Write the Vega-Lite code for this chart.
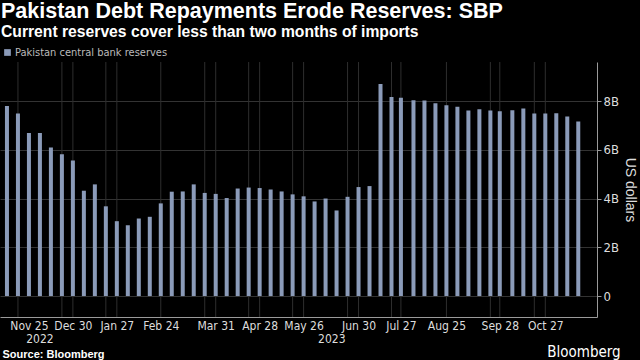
{
  "$schema": "https://vega.github.io/schema/vega-lite/v6.json",
  "width": 597,
  "height": 255,
  "autosize": {"type": "none"},
  "padding": {"left": 0, "top": 62, "right": 43, "bottom": 43},
  "background": "#000000",
  "title": {
    "text": "Pakistan Debt Repayments Erode Reserves: SBP",
    "subtitle": "Current reserves cover less than two months of imports",
    "anchor": "start",
    "frame": "group",
    "offset": 7,
    "dx": 1,
    "font": "Liberation Sans",
    "fontSize": 21.5,
    "fontWeight": "bold",
    "color": "#ffffff",
    "subtitleFont": "Liberation Sans",
    "subtitleFontSize": 15.7,
    "subtitleFontWeight": "bold",
    "subtitleColor": "#ffffff",
    "subtitlePadding": 3
  },
  "datasets": {
    "reserves": [
      {"date": "2022-11-18", "value": 7.80, "series": "Pakistan central bank reserves"},
      {"date": "2022-11-25", "value": 7.49, "series": "Pakistan central bank reserves"},
      {"date": "2022-12-02", "value": 6.69, "series": "Pakistan central bank reserves"},
      {"date": "2022-12-09", "value": 6.69, "series": "Pakistan central bank reserves"},
      {"date": "2022-12-16", "value": 6.09, "series": "Pakistan central bank reserves"},
      {"date": "2022-12-23", "value": 5.82, "series": "Pakistan central bank reserves"},
      {"date": "2022-12-30", "value": 5.56, "series": "Pakistan central bank reserves"},
      {"date": "2023-01-06", "value": 4.32, "series": "Pakistan central bank reserves"},
      {"date": "2023-01-13", "value": 4.58, "series": "Pakistan central bank reserves"},
      {"date": "2023-01-20", "value": 3.68, "series": "Pakistan central bank reserves"},
      {"date": "2023-01-27", "value": 3.07, "series": "Pakistan central bank reserves"},
      {"date": "2023-02-03", "value": 2.90, "series": "Pakistan central bank reserves"},
      {"date": "2023-02-10", "value": 3.18, "series": "Pakistan central bank reserves"},
      {"date": "2023-02-17", "value": 3.25, "series": "Pakistan central bank reserves"},
      {"date": "2023-02-24", "value": 3.80, "series": "Pakistan central bank reserves"},
      {"date": "2023-03-03", "value": 4.28, "series": "Pakistan central bank reserves"},
      {"date": "2023-03-10", "value": 4.29, "series": "Pakistan central bank reserves"},
      {"date": "2023-03-17", "value": 4.58, "series": "Pakistan central bank reserves"},
      {"date": "2023-03-24", "value": 4.23, "series": "Pakistan central bank reserves"},
      {"date": "2023-03-31", "value": 4.19, "series": "Pakistan central bank reserves"},
      {"date": "2023-04-07", "value": 4.02, "series": "Pakistan central bank reserves"},
      {"date": "2023-04-14", "value": 4.41, "series": "Pakistan central bank reserves"},
      {"date": "2023-04-21", "value": 4.45, "series": "Pakistan central bank reserves"},
      {"date": "2023-04-28", "value": 4.43, "series": "Pakistan central bank reserves"},
      {"date": "2023-05-05", "value": 4.37, "series": "Pakistan central bank reserves"},
      {"date": "2023-05-12", "value": 4.29, "series": "Pakistan central bank reserves"},
      {"date": "2023-05-19", "value": 4.17, "series": "Pakistan central bank reserves"},
      {"date": "2023-05-26", "value": 4.09, "series": "Pakistan central bank reserves"},
      {"date": "2023-06-02", "value": 3.88, "series": "Pakistan central bank reserves"},
      {"date": "2023-06-09", "value": 4.00, "series": "Pakistan central bank reserves"},
      {"date": "2023-06-16", "value": 3.51, "series": "Pakistan central bank reserves"},
      {"date": "2023-06-23", "value": 4.07, "series": "Pakistan central bank reserves"},
      {"date": "2023-06-30", "value": 4.47, "series": "Pakistan central bank reserves"},
      {"date": "2023-07-07", "value": 4.51, "series": "Pakistan central bank reserves"},
      {"date": "2023-07-14", "value": 8.70, "series": "Pakistan central bank reserves"},
      {"date": "2023-07-21", "value": 8.16, "series": "Pakistan central bank reserves"},
      {"date": "2023-07-27", "value": 8.13, "series": "Pakistan central bank reserves"},
      {"date": "2023-08-04", "value": 8.03, "series": "Pakistan central bank reserves"},
      {"date": "2023-08-11", "value": 8.02, "series": "Pakistan central bank reserves"},
      {"date": "2023-08-18", "value": 7.91, "series": "Pakistan central bank reserves"},
      {"date": "2023-08-25", "value": 7.83, "series": "Pakistan central bank reserves"},
      {"date": "2023-09-01", "value": 7.76, "series": "Pakistan central bank reserves"},
      {"date": "2023-09-08", "value": 7.61, "series": "Pakistan central bank reserves"},
      {"date": "2023-09-15", "value": 7.66, "series": "Pakistan central bank reserves"},
      {"date": "2023-09-22", "value": 7.61, "series": "Pakistan central bank reserves"},
      {"date": "2023-09-28", "value": 7.58, "series": "Pakistan central bank reserves"},
      {"date": "2023-10-06", "value": 7.62, "series": "Pakistan central bank reserves"},
      {"date": "2023-10-13", "value": 7.69, "series": "Pakistan central bank reserves"},
      {"date": "2023-10-20", "value": 7.49, "series": "Pakistan central bank reserves"},
      {"date": "2023-10-27", "value": 7.49, "series": "Pakistan central bank reserves"},
      {"date": "2023-11-03", "value": 7.50, "series": "Pakistan central bank reserves"},
      {"date": "2023-11-10", "value": 7.36, "series": "Pakistan central bank reserves"},
      {"date": "2023-11-17", "value": 7.16, "series": "Pakistan central bank reserves"}
    ],
    "grid": [
      {"date": "2022-11-25"}, {"date": "2022-12-23"}, {"date": "2022-12-30"},
      {"date": "2023-01-20"}, {"date": "2023-01-27"}, {"date": "2023-02-24"},
      {"date": "2023-03-24"}, {"date": "2023-03-31"}, {"date": "2023-04-21"},
      {"date": "2023-04-28"}, {"date": "2023-05-19"}, {"date": "2023-05-26"},
      {"date": "2023-06-23"}, {"date": "2023-06-30"}, {"date": "2023-07-21"},
      {"date": "2023-07-27"}, {"date": "2023-08-25"}, {"date": "2023-09-22"},
      {"date": "2023-09-28"}, {"date": "2023-10-20"}, {"date": "2023-10-27"}
    ],
    "annotations": [{"id": 1}]
  },
  "layer": [
    {
      "data": {"name": "grid"},
      "mark": {"type": "rule", "color": "#2e2e2e", "strokeWidth": 1},
      "encoding": {
        "x": {"field": "date", "type": "temporal", "title": "Source: Bloomberg"}
      }
    },
    {
      "data": {"name": "reserves"},
      "mark": {"type": "bar", "width": 4},
      "encoding": {
        "x": {
          "field": "date",
          "type": "temporal",
          "title": "Source: Bloomberg",
          "scale": {
            "type": "utc",
            "domain": [
              {"year": 2022, "month": 11, "date": 16, "hours": 18, "utc": true},
              {"year": 2023, "month": 11, "date": 25, "hours": 18, "utc": true}
            ]
          },
          "axis": {
            "values": [
              {"year": 2022, "month": 11, "date": 25, "utc": true},
              {"year": 2022, "month": 12, "date": 30, "utc": true},
              {"year": 2023, "month": 1, "date": 27, "utc": true},
              {"year": 2023, "month": 2, "date": 24, "utc": true},
              {"year": 2023, "month": 3, "date": 31, "utc": true},
              {"year": 2023, "month": 4, "date": 28, "utc": true},
              {"year": 2023, "month": 5, "date": 26, "utc": true},
              {"year": 2023, "month": 6, "date": 30, "utc": true},
              {"year": 2023, "month": 7, "date": 27, "utc": true},
              {"year": 2023, "month": 8, "date": 25, "utc": true},
              {"year": 2023, "month": 9, "date": 28, "utc": true},
              {"year": 2023, "month": 10, "date": 27, "utc": true}
            ],
            "labelExpr": "utcFormat(datum.value, '%b %d')",
            "labelFlush": false,
            "labelOffset": {"condition": {"test": "datum.index == 0", "value": 11}, "value": 0},
            "labelOverlap": false,
            "labelPadding": 3,
            "labelFontSize": 12,
            "labelColor": "#dddddd",
            "ticks": false,
            "grid": false,
            "domainColor": "#9a9a9a",
            "titleAnchor": "start",
            "titleAlign": "left",
            "titleX": 2,
            "titleY": 40,
            "titleBaseline": "alphabetic",
            "titleFontSize": 11,
            "titleFontWeight": "bold",
            "titleColor": "#ffffff"
          }
        },
        "y": {
          "field": "value",
          "type": "quantitative",
          "title": "US dollars",
          "scale": {"domain": [-0.86, 9.6], "nice": false, "zero": false},
          "axis": {
            "orient": "right",
            "values": [0, 1, 2, 3, 4, 5, 6, 7, 8, 9],
            "labelExpr": "datum.value == 0 ? '0' : (datum.value % 2 == 0 ? datum.value + 'B' : '')",
            "labelColor": "#dddddd",
            "labelFontSize": 13,
            "labelPadding": 2,
            "tickSize": 4,
            "tickColor": "#9a9a9a",
            "domainColor": "#9a9a9a",
            "grid": true,
            "gridColor": "#333333",
            "gridOpacity": {"condition": {"test": "datum.value % 2 == 1", "value": 0}, "value": 1},
            "titleAngle": 90,
            "titleColor": "#dddddd",
            "titleFontSize": 14,
            "titleFontWeight": "normal",
            "titlePadding": 4
          }
        },
        "color": {
          "field": "series",
          "type": "nominal",
          "scale": {"range": ["#8b9bb9"]},
          "legend": {
            "orient": "none",
            "legendX": 2,
            "legendY": -15,
            "title": null,
            "symbolType": "square",
            "symbolSize": 45,
            "symbolStrokeWidth": 0,
            "labelColor": "#bbbbbb",
            "labelFontSize": 11,
            "labelOffset": 2
          }
        }
      }
    },
    {
      "data": {"name": "annotations"},
      "mark": {"type": "text", "align": "center", "baseline": "alphabetic", "fontSize": 12, "color": "#dddddd"},
      "encoding": {
        "x": {"datum": {"year": 2022, "month": 12, "date": 9, "utc": true}, "type": "temporal"},
        "y": {"datum": -1.93, "type": "quantitative"},
        "text": {"value": "2022"}
      }
    },
    {
      "data": {"name": "annotations"},
      "mark": {"type": "text", "align": "center", "baseline": "alphabetic", "fontSize": 12, "color": "#dddddd"},
      "encoding": {
        "x": {"datum": {"year": 2023, "month": 6, "date": 13, "utc": true}, "type": "temporal"},
        "y": {"datum": -1.93, "type": "quantitative"},
        "text": {"value": "2023"}
      }
    },
    {
      "data": {"name": "annotations"},
      "mark": {"type": "text", "align": "right", "baseline": "alphabetic", "fontSize": 15, "color": "#ffffff"},
      "encoding": {
        "x": {"datum": {"year": 2023, "month": 12, "date": 14, "utc": true}, "type": "temporal"},
        "y": {"datum": -2.5, "type": "quantitative"},
        "text": {"value": "Bloomberg"}
      }
    }
  ],
  "config": {
    "view": {"stroke": null},
    "font": "Liberation Sans",
    "axis": {"labelFont": "Liberation Sans Narrow, DejaVu Sans Condensed, Liberation Sans", "titleFont": "Liberation Sans"},
    "legend": {"labelFont": "Liberation Sans Narrow, DejaVu Sans Condensed, Liberation Sans", "padding": 0},
    "text": {"font": "Liberation Sans Narrow, DejaVu Sans Condensed, Liberation Sans"}
  }
}
